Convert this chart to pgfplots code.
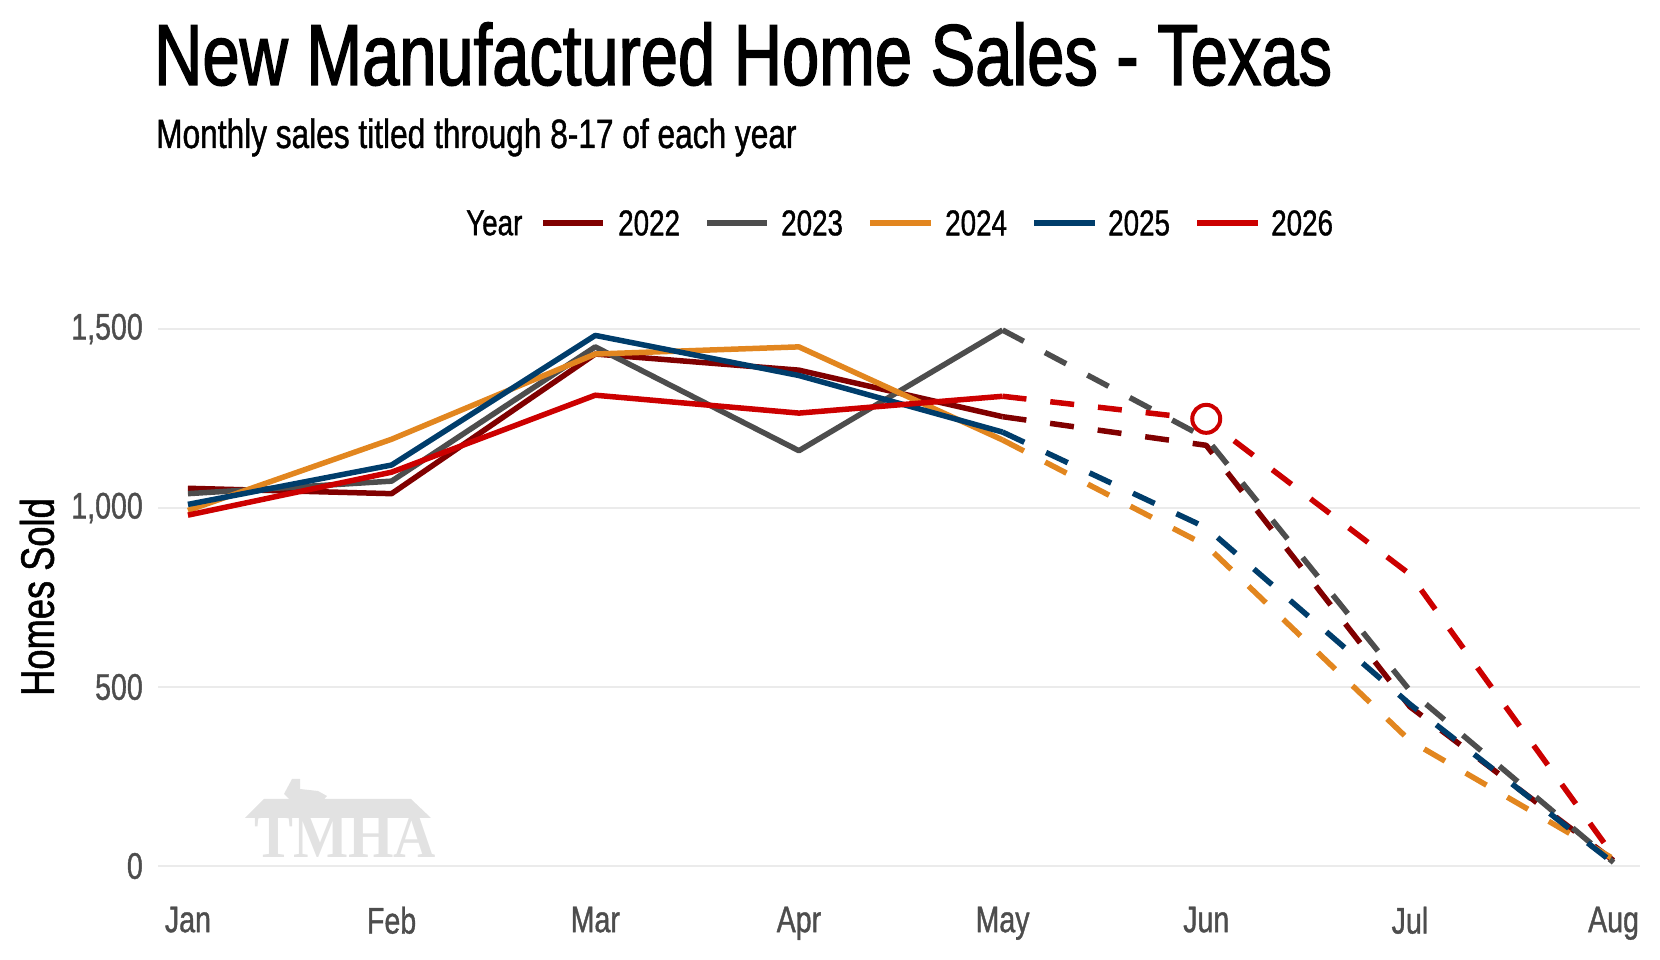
\documentclass[border=0pt]{standalone}
\usepackage{pgfplots}
\pgfplotsset{compat=1.18}
\usepackage{fontspec}
\setmainfont{Liberation Sans}[FakeStretch=0.772, FakeBold=1]
\newfontfamily\titlefont{Liberation Sans}[FakeStretch=0.772, FakeBold=1.6]
\newfontfamily\wmfont{Liberation Serif}[FakeStretch=0.9]
\definecolor{c22}{HTML}{800000}
\definecolor{c23}{HTML}{4D4D4D}
\definecolor{c24}{HTML}{E2861F}
\definecolor{c25}{HTML}{003D6B}
\definecolor{c26}{HTML}{CC0000}
\definecolor{tickc}{HTML}{4D4D4D}
\definecolor{gridc}{HTML}{EBEBEB}
\definecolor{wm}{HTML}{E2E2E2}
\begin{document}
\begin{tikzpicture}[x=1pt,y=1pt]
\path[use as bounding box] (0pt,0pt) rectangle (1660pt,960pt);
% watermark
\fill[wm] (245pt,142pt) -- (264pt,161pt) -- (411pt,161pt) -- (431pt,142pt) -- cycle;
\fill[wm] (292pt,181pt) -- (300pt,181pt) -- (300pt,171pt) -- (318pt,169pt) -- (327pt,164pt) -- (320pt,156pt) -- (306pt,147pt) -- (302pt,153pt) -- (292pt,158pt) -- (284pt,166pt) -- cycle;
\node[anchor=base west, inner sep=0pt, text=wm, font=\wmfont\bfseries\fontsize{65}{70}\selectfont] at (254pt,102pt) {TMHA};
\begin{axis}[
  at={(158pt,72.5pt)}, anchor=south west,
  width=1482pt, height=580pt, scale only axis,
  xmin=0.853, xmax=8.13, ymin=-60, ymax=1560,
  clip=false,
  axis line style={draw=none},
  tick style={draw=none},
  major tick length=0pt,
  ymajorgrids,
  grid style={gridc, line width=2.5pt},
  ytick={0,500,1000,1500},
  xtick={1,2,3,4,5,6,7,8},
  xticklabels={Jan,Feb,Mar,Apr,May,Jun,Jul,Aug},
  scaled y ticks=false,
  /pgf/number format/.cd, 1000 sep={,}, assume math mode=true,
  /pgfplots/.cd,
  yticklabel style={anchor=east, inner sep=0pt, xshift=-15pt, text=tickc, font=\fontsize{37}{40}\selectfont},
  xticklabel style={anchor=north, inner sep=0pt, yshift=-19pt, text=tickc, font=\fontsize{37}{40}\selectfont},
]
% solid parts
\addplot[c22, line width=5.5pt, line join=round] coordinates {(1,1055)(2,1040)(3,1430)(4,1385)(5,1255)};
\addplot[c23, line width=5.5pt, line join=round] coordinates {(1,1040)(2,1075)(3,1450)(4,1160)(5,1497)};
\addplot[c24, line width=5.5pt, line join=round] coordinates {(1,993)(2,1192)(3,1430)(4,1450)(5,1190)};
\addplot[c25, line width=5.5pt, line join=round] coordinates {(1,1010)(2,1120)(3,1482)(4,1370)(5,1212)};
\addplot[c26, line width=5.5pt, line join=round] coordinates {(1,980)(2,1100)(3,1315)(4,1265)(5,1312)};
% dashed parts
\addplot[c22, line width=5.5pt, line join=round, dash pattern=on 24pt off 24pt] coordinates {(5,1255)(6,1175)(7,445)(8,15)};
\addplot[c23, line width=5.5pt, line join=round, dash pattern=on 24pt off 24pt] coordinates {(5,1497)(6,1195)(7,490)(8,10)};
\addplot[c24, line width=5.5pt, line join=round, dash pattern=on 24pt off 24pt] coordinates {(5,1190)(6,895)(7,350)(8,20)};
\addplot[c25, line width=5.5pt, line join=round, dash pattern=on 24pt off 24pt] coordinates {(5,1212)(6,945)(7,452)(8,8)};
\addplot[c26, line width=5.5pt, line join=round, dash pattern=on 24pt off 24pt] coordinates {(5,1312)(6,1247)(7,815)(8,28)};
% marker
\addplot[only marks, mark=*, mark size=14pt, mark options={solid, draw=c26, fill=white, line width=4pt}] coordinates {(6,1249)};
\end{axis}
% titles
\node[anchor=base west, inner sep=0pt, font=\titlefont\fontsize{86.6}{95}\selectfont] at (154pt,875pt) {New Manufactured Home Sales - Texas};
\node[anchor=base west, inner sep=0pt, font=\fontsize{41}{45}\selectfont] at (156pt,812pt) {Monthly sales titled through 8-17 of each year};
% y label
\node[rotate=90, inner sep=0pt, font=\fontsize{47}{50}\selectfont] at (37pt,363pt) {Homes Sold};
% legend
\node[anchor=west, inner sep=0pt, font=\fontsize{36}{40}\selectfont] at (466pt,737pt) {Year};
\draw[c22, line width=5.5pt] (543pt,737pt) -- (603pt,737pt);
\node[anchor=west, inner sep=0pt, font=\fontsize{36}{40}\selectfont] at (618pt,737pt) {2022};
\draw[c23, line width=5.5pt] (707pt,737pt) -- (767pt,737pt);
\node[anchor=west, inner sep=0pt, font=\fontsize{36}{40}\selectfont] at (781pt,737pt) {2023};
\draw[c24, line width=5.5pt] (870pt,737pt) -- (931pt,737pt);
\node[anchor=west, inner sep=0pt, font=\fontsize{36}{40}\selectfont] at (945pt,737pt) {2024};
\draw[c25, line width=5.5pt] (1034pt,737pt) -- (1095pt,737pt);
\node[anchor=west, inner sep=0pt, font=\fontsize{36}{40}\selectfont] at (1108pt,737pt) {2025};
\draw[c26, line width=5.5pt] (1197pt,737pt) -- (1258pt,737pt);
\node[anchor=west, inner sep=0pt, font=\fontsize{36}{40}\selectfont] at (1271pt,737pt) {2026};
\end{tikzpicture}
\end{document}
